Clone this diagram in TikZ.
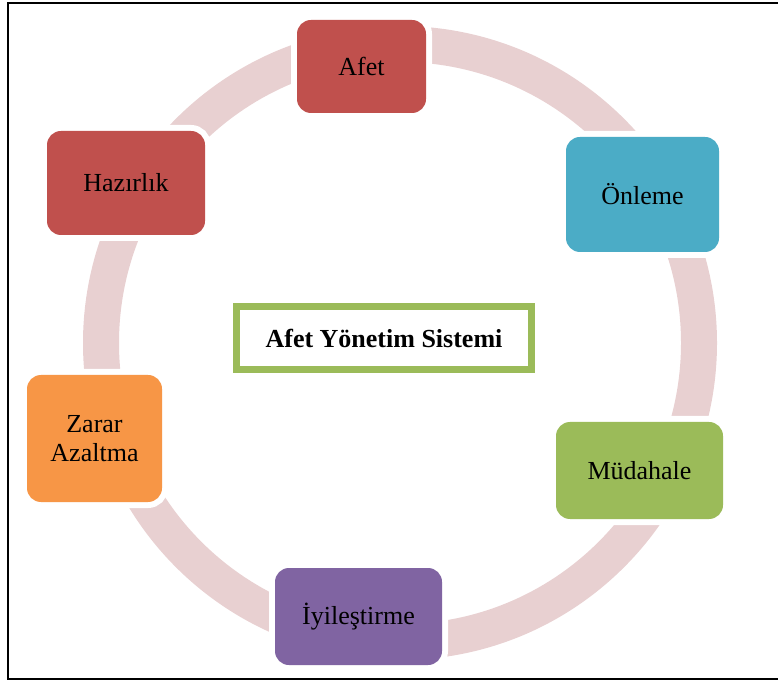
\documentclass[tikz,border=0pt]{standalone}
\usepackage{fontspec}
\setmainfont{Liberation Serif}
\usepackage{xcolor}
\usepackage{tikz}
\usetikzlibrary{positioning}

\definecolor{afetred}{HTML}{C0504D}
\definecolor{onlemeblue}{HTML}{4BACC6}
\definecolor{mudahalegreen}{HTML}{9BBB59}
\definecolor{iyilesmepurple}{HTML}{8064A2}
\definecolor{zararorange}{HTML}{F79646}
\definecolor{ringpink}{HTML}{E8D0D1}

\begin{document}
\begin{tikzpicture}[
      x=1pt, y=1pt,
      font=\fontsize{26}{28.5}\selectfont,
      type-phase/.style={rectangle, rounded corners=14pt, inner sep=0pt, align=center,
        preaction={draw=white, line width=12pt}},
      type-title/.style={rectangle, draw=mudahalegreen, fill=white, line width=7pt,
        minimum width=295pt, minimum height=63pt, font=\fontsize{26}{28.5}\selectfont\bfseries},
      type-ring/.style={draw=ringpink, line width=36pt},
      type-frame/.style={draw=black, line width=1.5pt}
    ]
      \clip (0,0) rectangle (778,680);
      \draw[type-frame] (8,1) rectangle (800,677);
      % the cycle band behind the phases
      \draw[type-ring] (400,337) circle (299pt);
      \node[type-phase, fill=afetred, minimum width=129pt, minimum height=93pt] (afet) at (361.5,613.5) {Afet};
      \node[type-phase, fill=onlemeblue, minimum width=153pt, minimum height=115pt] (onleme) at (642.5,485.5) {Önleme};
      \node[type-phase, fill=mudahalegreen, minimum width=167pt, minimum height=97pt] (mudahale) at (639.5,209.5) {Müdahale};
      \node[type-phase, fill=iyilesmepurple, minimum width=167pt, minimum height=97pt] (iyilestirme) at (358.5,63.5) {İyileştirme};
      \node[type-phase, fill=zararorange, minimum width=135pt, minimum height=127pt] (zarar) at (94.5,241.5) {Zarar\\Azaltma};
      \node[type-phase, fill=afetred, minimum width=158pt, minimum height=104pt] (hazirlik) at (126,497) {Hazırlık};
      \node[type-title] (sistem) at (384,342) {Afet Yönetim Sistemi};
    \end{tikzpicture}
\end{document}
